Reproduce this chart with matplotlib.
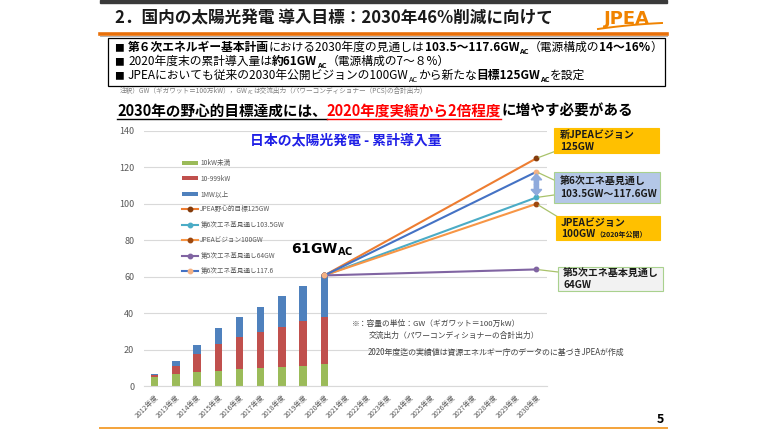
import numpy as np
import matplotlib.pyplot as plt
from matplotlib.patches import Rectangle, FancyArrow
from matplotlib.lines import Line2D

FONTS = ['Noto Sans CJK JP', 'DejaVu Sans']
plt.rcParams['font.family'] = FONTS

# ---- data ----
years = ['2012年度', '2013年度', '2014年度', '2015年度', '2016年度', '2017年度',
         '2018年度', '2019年度', '2020年度', '2021年度', '2022年度', '2023年度',
         '2024年度', '2025年度', '2026年度', '2027年度', '2028年度', '2029年度',
         '2030年度']
under_10kw = [5.1, 6.6, 7.5, 8.4, 9.1, 9.7, 10.4, 11.2, 11.9]
kw_10_999 = [0.9, 4.6, 9.9, 14.5, 17.6, 19.9, 22.0, 24.3, 26.1]
mw_1_over = [0.6, 2.3, 5.3, 9.1, 11.3, 13.9, 17.0, 19.5, 22.7]
bar_labels = ['10kW未満', '10-999kW', '1MW以上']
bar_colors = ['#9BBB59', '#C0504D', '#4F81BD']

# scenarios: 2020 actual -> 2030 target
scen_names = ['JPEA野心的目標125GW', '第6次エネ基見通し103.5GW', 'JPEAビジョン100GW',
              '第5次エネ基見通し64GW', '第6次エネ基見通し117.6']
scen_2020 = [60.7, 60.7, 60.7, 60.7, 60.7]
scen_2030 = [125, 103.5, 100, 64, 117.6]
scen_line = ['#ED7D31', '#4BACC6', '#F79646', '#8064A2', '#4472C4']
scen_mark = ['#843C0C', '#4BACC6', '#9E480E', '#8064A2', '#F4B183']

W, H = 768, 429
fig = plt.figure(figsize=(W / 100, H / 100), dpi=100)


def fx(x):
    return x / W


def fy(y):
    return 1 - y / H


def rich(x, y, parts, size, color='black', z=3):
    # draw text pieces one after another on a baseline, pixel coords from top-left
    r = fig.canvas.get_renderer()
    cx = x
    for p in parts:
        txt = p[0]
        bold = p[1] if len(p) > 1 else False
        col = p[2] if len(p) > 2 else color
        sz = p[3] if len(p) > 3 else size
        dy = p[4] if len(p) > 4 else 0
        t = fig.text(fx(cx), fy(y + dy), txt, fontsize=sz, color=col, zorder=z,
                     fontweight='bold' if bold else 'normal', va='baseline')
        cx += t.get_window_extent(r).width
    return cx


def hline(x0, x1, y, color, lw):
    fig.add_artist(Line2D([fx(x0), fx(x1)], [fy(y), fy(y)], color=color, lw=lw,
                          transform=fig.transFigure))


# ---- slide header ----
fig.add_artist(Rectangle((fx(100), fy(3)), (667 - 100) / W, 3 / H, color='#3A3A3A',
                         transform=fig.transFigure))
fig.text(fx(115), fy(24), '2．国内の太陽光発電 導入目標：2030年46%削減に向けて',
         fontsize=12, fontweight='bold', color='#1A1A1A', va='baseline')
hline(100, 667, 33.5, '#E8700A', 2.6)
hline(100, 667, 36, '#A6A6A6', 0.6)
fig.text(fx(604), fy(24), 'JPEA', fontsize=13, fontweight='bold', color='#F08300',
         family='DejaVu Sans', va='baseline')
t_sw = np.linspace(0, 1, 30)
fig.add_artist(Line2D(fx(598 + 64 * t_sw), fy(29 - 9 * t_sw + 3 * t_sw ** 2),
                      color='#F08300', lw=1.4, transform=fig.transFigure))

# bullet box
fig.add_artist(Rectangle((fx(108), fy(86)), (665 - 108) / W, 48 / H, fill=False,
                         edgecolor='black', lw=0.9, transform=fig.transFigure))
bs = 8.5
sub = bs * 0.62
for yb in [51, 65, 79]:
    fig.text(fx(114), fy(yb), '■', fontsize=7, va='baseline')
rich(128, 51, [('第６次エネルギー基本計画', True), ('における2030年度の見通しは', False),
               ('103.5～117.6GW', True), ('AC', True, 'black', sub, 2.5),
               ('（電源構成の', False), ('14～16%', True), ('）', False)], bs)
rich(128, 65, [('2020年度末の累計導入量は', False), ('約61GW', True),
               ('AC', True, 'black', sub, 2.5), ('（電源構成の7～８%）', False)], bs)
rich(128, 79, [('JPEAにおいても従来の2030年公開ビジョンの100GW', False),
               ('AC', False, 'black', sub, 2.5), ('から新たな', False), ('目標125GW', True),
               ('AC', True, 'black', sub, 2.5), ('を設定', False)], bs)
rich(120, 93, [('注釈）GW（ギガワット＝100万kW），GW', False), ('AC', False, '#7F7F7F', 3.2, 1.5),
               ('は交流出力（パワーコンディショナー（PCS)の合計出力)', False)], 4.8, color='#7F7F7F')

# heading with underline
x_end1 = rich(117, 116, [('2030年の野心的目標達成には、', True)], 10.5)
x_end2 = rich(x_end1, 116, [('2020年度実績から2倍程度', True, '#FF0000')], 10.5)
rich(x_end2, 116, [('に増やす必要がある', True)], 10.5)
hline(117, x_end1, 119, 'black', 1.0)
hline(x_end1, x_end2, 119, '#FF0000', 1.0)

# ---- chart ----
ax = fig.add_axes([fx(144), fy(386), 403 / W, 255 / H])
x = np.arange(len(years))
xb = x[:len(under_10kw)]
b1 = np.array(under_10kw)
b2 = np.array(kw_10_999)
b3 = np.array(mw_1_over)
bars = [ax.bar(xb, b1, width=0.35, color=bar_colors[0], label=bar_labels[0]),
        ax.bar(xb, b2, width=0.35, bottom=b1, color=bar_colors[1], label=bar_labels[1]),
        ax.bar(xb, b3, width=0.35, bottom=b1 + b2, color=bar_colors[2], label=bar_labels[2])]

lines = []
for name, v0, v1, lc, mc in zip(scen_names, scen_2020, scen_2030, scen_line, scen_mark):
    ln, = ax.plot([x[8], x[18]], [v0, v1], color=lc, lw=1.5, marker='o', ms=3.2,
                  mfc=mc, mec=mc, label=name, zorder=3)
    lines.append(ln)

ax.set_xlim(-0.5, 18.5)
ax.set_ylim(0, 140)
ax.set_yticks(range(0, 141, 20))
ax.yaxis.grid(True, color='#D9D9D9', lw=0.8)
ax.set_axisbelow(True)
for s in ['left', 'right', 'top']:
    ax.spines[s].set_visible(False)
ax.spines['bottom'].set_color('#D9D9D9')
ax.tick_params(axis='y', length=0, labelsize=6.5, labelcolor='#595959', pad=7)
ax.tick_params(axis='x', length=0, labelsize=5, labelcolor='#595959', pad=5)
ax.set_xticks(x)
ax.set_xticklabels(years, rotation=45, ha='right', rotation_mode='anchor')

handles = bars + lines
leg = ax.legend(handles, bar_labels + scen_names, loc='upper left',
                bbox_to_anchor=(0.095, 0.89), frameon=False,
                fontsize=4.8, labelspacing=1.12, handlelength=2.4, handletextpad=0.3,
                borderaxespad=0, borderpad=0, handleheight=0.6)
for t in leg.get_texts():
    t.set_color('#595959')

ax.text(0.5, 0.965, '日本の太陽光発電 - 累計導入量', transform=ax.transAxes, ha='center',
        va='center', fontsize=10, fontweight='bold', color='#1F1FE6')
ax.annotate(r'$\mathbf{61GW_{AC}}$', xy=(x[8], 60.7), xytext=(x[8] - 0.1, 75),
            ha='center', va='center', fontsize=10)

# range arrow between the two 6th plan values
mid = (scen_2030[1] + scen_2030[4]) / 2
for end in [scen_2030[4] - 1.2, scen_2030[1] + 1.2]:
    ax.add_patch(FancyArrow(x[18], mid, 0, end - mid, width=0.2, head_width=0.5,
                            head_length=3.2, length_includes_head=True,
                            color='#8FAADC', zorder=4, clip_on=False))


# ---- callouts ----
def callout_box(x0, y0, x1, y1, face, edge):
    fig.add_artist(Rectangle((fx(x0), fy(y1)), (x1 - x0) / W, (y1 - y0) / H,
                             facecolor=face, edgecolor=edge, lw=0.8,
                             transform=fig.transFigure, zorder=4))


def connector(val, px, py):
    ax.annotate('', xy=(x[18], val), xycoords='data', xytext=(fx(px), fy(py)),
                textcoords='figure fraction', annotation_clip=False,
                arrowprops=dict(arrowstyle='-', color='#A9C26A', lw=0.9,
                                shrinkA=0, shrinkB=2))


cs = 7.2
callout_box(554, 128, 659, 153, '#FFC000', '#FFC000')
connector(scen_2030[0], 556, 151)
fig.text(fx(560), fy(140.5), '新JPEAビジョン\n125GW', fontsize=cs, fontweight='bold',
         va='center', color='#1A1A1A', linespacing=1.25, zorder=5)

callout_box(554, 172, 660, 203, '#B4C7E7', '#A9D18E')
connector(scen_2030[4], 554, 180)
connector(scen_2030[1], 554, 195)
fig.text(fx(560), fy(187.5), '第6次エネ基見通し\n103.5GW～117.6GW', fontsize=cs,
         fontweight='bold', va='center', color='#1A1A1A', linespacing=1.3, zorder=5)

callout_box(556, 216, 660, 240, '#FFC000', '#FFC000')
connector(scen_2030[2], 558, 217)
fig.text(fx(561), fy(226), 'JPEAビジョン', fontsize=cs, fontweight='bold',
         va='baseline', color='#1A1A1A', zorder=5)
rich(561, 237, [('100GW', True, '#1A1A1A'), ('（2020年公開）', True, '#1A1A1A', 5)], cs, z=5)

callout_box(558, 267, 663, 291, '#F2F2F2', '#A9D18E')
connector(scen_2030[3], 558, 272)
fig.text(fx(563), fy(279), '第5次エネ基本見通し\n64GW', fontsize=cs, fontweight='bold',
         va='center', color='#1A1A1A', linespacing=1.25, zorder=5)

# ---- notes ----
fig.text(fx(352), fy(326), '※：容量の単位：GW（ギガワット＝100万kW）', fontsize=5.6,
         color='#404040', va='baseline')
fig.text(fx(369), fy(338), '交流出力（パワーコンディショナーの合計出力）', fontsize=5.6,
         color='#404040', va='baseline')
fig.text(fx(368), fy(355), '2020年度迄の実績値は資源エネルギー庁のデータのに基づきJPEAが作成',
         fontsize=5.7, color='#404040', va='baseline')

# ---- footer ----
hline(100, 667, 427.5, '#F4A33A', 1.4)
fig.text(fx(660), fy(423), '5', fontsize=9, fontweight='bold', ha='center',
         va='baseline')

fig.savefig('out.png', dpi=100)
